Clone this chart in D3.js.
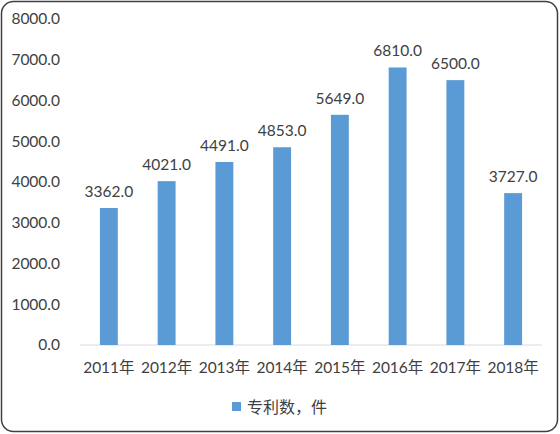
<!DOCTYPE html>
<html>
<head>
<meta charset="utf-8">
<script src="https://cdn.jsdelivr.net/npm/d3@7"></script>
<style>
  body { margin: 0; background: #fff; }
  text { font-family: Lato, "Noto Sans CJK SC", sans-serif; fill: #404040; }
</style>
</head>
<body>
<script>
// data
const years = ["2011年", "2012年", "2013年", "2014年", "2015年", "2016年", "2017年", "2018年"]
const patents = [3362, 4021, 4491, 4853, 5649, 6810, 6500, 3727]
const yTicks = [0, 1000, 2000, 3000, 4000, 5000, 6000, 7000, 8000]
const seriesName = "专利数，件"

const w = 560
const h = 434

const svg = d3.select("body")
              .append("svg")
              .attr("width", w)
              .attr("height", h)

// outer frame
svg.append("rect")
   .attr("x", 1.5)
   .attr("y", 1.5)
   .attr("width", w - 4)
   .attr("height", h - 4)
   .attr("rx", 12)
   .attr("fill", "#fff")
   .attr("stroke", "#404040")
   .attr("stroke-width", 1.5)

const x = d3.scaleBand()
            .domain(years)
            .range([80, 542])
            .paddingInner(0.69)
            .paddingOuter(0.345)

const y = d3.scaleLinear()
            .domain([0, 8000])
            .range([345, 19])

// y labels
const yAxis = d3.axisLeft(y)
                .tickValues(yTicks)
                .tickFormat(d3.format(".1f"))
                .tickSize(0)
                .tickPadding(0)
svg.append("g")
   .attr("transform", "translate(60,0)")
   .call(yAxis)
   .call(g => g.select(".domain").remove())
   .selectAll("text")
   .attr("font-size", 15.5)
   .attr("font-family", "Lato, sans-serif")
   .attr("fill", "#404040")

// baseline
svg.append("line")
   .attr("x1", 80)
   .attr("x2", 542)
   .attr("y1", y(0))
   .attr("y2", y(0))
   .attr("stroke", "#d9d9d9")
   .attr("stroke-width", 1.2)

// x labels
const xAxis = d3.axisBottom(x).tickSize(0).tickPadding(0)
svg.append("g")
   .attr("transform", "translate(0," + (y(0) + 17) + ")")
   .call(xAxis)
   .call(g => g.select(".domain").remove())
   .selectAll("text")
   .attr("font-size", 15.5)
   .attr("font-family", "Lato, 'Noto Sans CJK SC', sans-serif")
   .attr("fill", "#404040")

// bars
svg.selectAll(".bar")
   .data(patents)
   .enter()
   .append("rect")
   .attr("class", "bar")
   .attr("x", (d, i) => x(years[i]))
   .attr("width", x.bandwidth())
   .attr("y", d => y(d))
   .attr("height", d => y(0) - y(d))
   .attr("fill", "#5b9bd5")

// value labels
svg.selectAll(".val")
   .data(patents)
   .enter()
   .append("text")
   .attr("class", "val")
   .attr("x", (d, i) => x(years[i]) + x.bandwidth() / 2)
   .attr("y", d => y(d) - 11)
   .attr("text-anchor", "middle")
   .attr("font-size", 15.5)
   .text(d => d3.format(".1f")(d))

// legend
const legend = svg.append("g").attr("transform", "translate(232,402)")
legend.append("rect")
      .attr("width", 9)
      .attr("height", 9)
      .attr("fill", "#5b9bd5")
legend.append("text")
      .attr("x", 15)
      .attr("y", 10.5)
      .attr("font-size", 16)
      .attr("font-family", "'Noto Sans CJK SC', sans-serif")
      .text(seriesName)
</script>
</body>
</html>
